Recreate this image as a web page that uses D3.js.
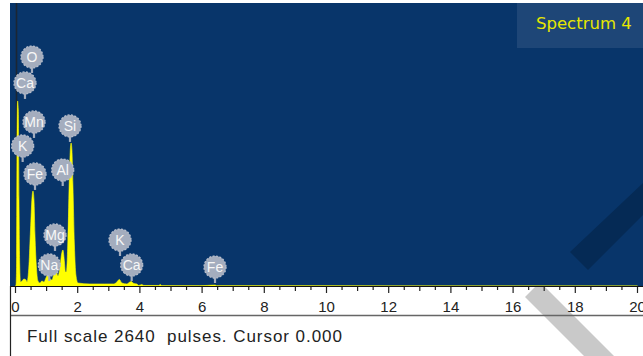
<!DOCTYPE html>
<html><head><meta charset="utf-8">
<script src="https://cdn.jsdelivr.net/npm/d3@7"></script>
<style>html,body{margin:0;padding:0;background:#fff;overflow:hidden}</style>
</head><body>
<script>
// ---- data ----
const energies = [0,0.016,0.032,0.048,0.067,0.090,0.112,0.135,0.161,0.209,0.273,0.337,0.369,0.433,0.482,0.530,0.562,0.594,0.626,0.674,0.722,0.787,0.851,0.915,0.979,1.043,1.108,1.172,1.236,1.300,1.364,1.429,1.477,1.525,1.573,1.605,1.637,1.685,1.734,1.766,1.788,1.814,1.846,1.894,1.942,2.006,2.392,2.873,3.162,3.258,3.339,3.419,3.579,3.676,3.724,3.804,3.900,3.965,4.061,4.125,4.607,4.655,4.703,5.923,6.420,6.470,12.3,20];
const counts   = [0,9,149,1269,1726,1642,802,196,37,47,65,56,37,196,522,821,886,802,476,168,47,28,47,37,75,112,65,56,112,140,93,168,289,336,224,131,131,429,1036,1288,1334,1269,942,383,103,28,19,19,19,37,61,28,19,37,42,23,19,5,14,5,5,14,3,2,9,2,1,0];
const fullScale = 2640;
const cursorValue = 0;
const peakLabels   = ["O","Ca","Mn","Si","K","Al","Fe","Mg","Na","K","Ca","Fe"];
const peakEnergies = [0.53,0.305,0.595,1.752,0.23,1.518,0.627,1.27,1.087,3.36,3.736,6.415];
const peakTips     = [1987,1745,1381,1344,1157,933,896,327,47,280,47,28];
const tickValues = [0,2,4,6,8,10,12,14,16,18,20];
const minorTicks = d3.range(0,20.01,0.5);
const spectrumName = "Spectrum 4";
const footerText = "Full scale 2640  pulses. Cursor 0.000";

// ---- layout ----
const W = 643, H = 356;
const plotL = 10, plotT = 3, plotB = 286, sepY = 315.5;
const svg = d3.select("body").append("svg").attr("width",W).attr("height",H)
  .style("font-family","'Liberation Sans', Arial, sans-serif");

const x = d3.scaleLinear().domain([0,20]).range([15.5,637.5]);
const y = d3.scaleLinear().domain([0,fullScale]).range([plotB,plotT]);

const defs = svg.append("defs");
defs.append("clipPath").attr("id","plotClip").append("rect")
  .attr("x",plotL).attr("y",plotT).attr("width",W-plotL).attr("height",plotB-plotT);
defs.append("clipPath").attr("id","lowClip").append("rect")
  .attr("x",plotL+1).attr("y",plotB+1).attr("width",W-plotL).attr("height",H-plotB);

// background
svg.append("rect").attr("x",plotL).attr("y",plotT).attr("width",W-plotL).attr("height",plotB-plotT)
  .attr("fill","#08356a");

// decorative diagonal bands
const plotG = svg.append("g").attr("clip-path","url(#plotClip)");
plotG.append("polygon").attr("points","643,183 570,252 588,270 643,215").attr("fill","#052a55");
const lowG = svg.append("g").attr("clip-path","url(#lowClip)");
lowG.append("polygon").attr("points","540,282 525,297 584,356 614,356").attr("fill","#c9c9c9");

// spectrum name box
svg.append("rect").attr("x",517).attr("y",plotT).attr("width",W-517).attr("height",45).attr("fill","#1e4677");
svg.append("text").attr("x",536).attr("y",29).attr("fill","#e6e600")
  .style("font-family","'DejaVu Sans', sans-serif").attr("font-size",16.5).text(spectrumName);

// cursor
plotG.append("line").attr("x1",x(cursorValue)+1).attr("x2",x(cursorValue)+1)
  .attr("y1",plotT).attr("y2",plotB).attr("stroke","#1b2633").attr("stroke-width",1.6);

// spectrum area
const pts = energies.map((e,i)=>[e,counts[i]]);
const area = d3.area().x(d=>x(d[0])).y0(y(0)).y1(d=>y(d[1])).curve(d3.curveMonotoneX);
plotG.append("path").datum(pts).attr("d",area).attr("fill","#ffff00").attr("stroke","#ffff00").attr("stroke-width",0.6);

// peak label bubbles
const r = 11, stemLen = 5;
const lg = plotG.append("g");
peakLabels.forEach((lab,i)=>{
  const px = x(peakEnergies[i]), tip = y(peakTips[i]);
  const cy = tip - stemLen - r;
  const g = lg.append("g");
  g.append("line").attr("x1",px).attr("x2",px).attr("y1",cy).attr("y2",tip)
    .attr("stroke","#a4adbe").attr("stroke-width",2.2);
  g.append("circle").attr("cx",px).attr("cy",cy).attr("r",r)
    .attr("fill","#a4adbe").attr("stroke","#b6bdcb").attr("stroke-width",1.3).attr("stroke-dasharray","2,1.5");
  g.append("text").attr("x",px).attr("y",cy+5).attr("text-anchor","middle")
    .attr("fill","#f7f7f7").attr("font-size",14).text(lab);
});

// axis
svg.append("line").attr("x1",plotL).attr("x2",W).attr("y1",plotB+0.5).attr("y2",plotB+0.5)
  .attr("stroke","#111").attr("stroke-width",1.2);
const axG = svg.append("g").attr("clip-path","url(#lowClip)");
axG.selectAll("line.tk").data(minorTicks).enter().append("line")
  .attr("x1",d=>x(d)).attr("x2",d=>x(d)).attr("y1",plotB)
  .attr("y2",d=> (Math.abs(d%2)<1e-6) ? plotB+7 : (Math.abs(d%1)<1e-6 ? plotB+5 : plotB+4))
  .attr("stroke","#222").attr("stroke-width",1.2);
axG.selectAll("text.tl").data(tickValues).enter().append("text")
  .attr("x",d=>x(d)).attr("y",312).attr("text-anchor","middle")
  .attr("font-size",15).attr("fill","#222").text(d=>d);

// separator & left frame
svg.append("line").attr("x1",plotL).attr("x2",W).attr("y1",sepY).attr("y2",sepY)
  .attr("stroke","#666").attr("stroke-width",1.5);
svg.append("line").attr("x1",plotL+0.5).attr("x2",plotL+0.5).attr("y1",plotB).attr("y2",H)
  .attr("stroke","#222").attr("stroke-width",1.2);

// footer text
svg.append("text").attr("x",27).attr("y",342).attr("font-size",17).attr("fill","#222")
  .attr("textLength",315).attr("lengthAdjust","spacing").style("white-space","pre").text(footerText);
</script>
</body></html>
